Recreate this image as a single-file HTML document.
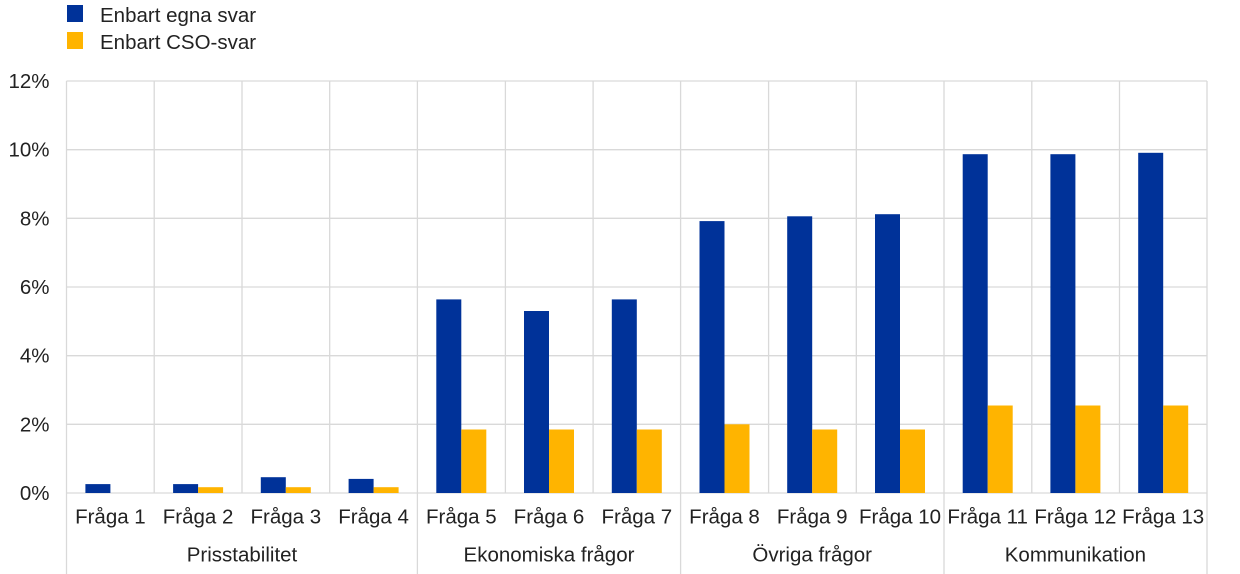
<!DOCTYPE html>
<html>
<head>
<meta charset="utf-8">
<style>
  html, body { margin: 0; padding: 0; background: #fff; }
  svg { display: block; }
  text { font-family: "Liberation Sans", Arial, sans-serif; fill: #222; }
</style>
</head>
<body>
<svg width="1240" height="574" viewBox="0 0 1240 574" xmlns="http://www.w3.org/2000/svg">
  <!-- Legend -->
  <rect x="67" y="5" width="16" height="17" fill="#003299"/>
  <text x="100" y="22" font-size="20.5">Enbart egna svar</text>
  <rect x="67" y="32" width="16" height="17" fill="#FFB400"/>
  <text x="100" y="49" font-size="20.5">Enbart CSO-svar</text>

  <!-- Horizontal gridlines -->
  <g stroke="#d9d9d9" stroke-width="1.3">
    <line x1="66.5" y1="81" x2="1207" y2="81"/>
    <line x1="66.5" y1="149.7" x2="1207" y2="149.7"/>
    <line x1="66.5" y1="218.3" x2="1207" y2="218.3"/>
    <line x1="66.5" y1="287" x2="1207" y2="287"/>
    <line x1="66.5" y1="355.7" x2="1207" y2="355.7"/>
    <line x1="66.5" y1="424.3" x2="1207" y2="424.3"/>
    <line x1="66.5" y1="493" x2="1207" y2="493"/>
  </g>
  <!-- Vertical gridlines (category) -->
  <g stroke="#d9d9d9" stroke-width="1.3">
    <line x1="154.2" y1="81" x2="154.2" y2="493"/>
    <line x1="242" y1="81" x2="242" y2="493"/>
    <line x1="329.7" y1="81" x2="329.7" y2="493"/>
    <line x1="505.4" y1="81" x2="505.4" y2="493"/>
    <line x1="593.1" y1="81" x2="593.1" y2="493"/>
    <line x1="768.6" y1="81" x2="768.6" y2="493"/>
    <line x1="856.3" y1="81" x2="856.3" y2="493"/>
    <line x1="1031.8" y1="81" x2="1031.8" y2="493"/>
    <line x1="1119.5" y1="81" x2="1119.5" y2="493"/>
    <!-- group separators extend to bottom -->
    <line x1="66.5" y1="81" x2="66.5" y2="574"/>
    <line x1="417.4" y1="81" x2="417.4" y2="574"/>
    <line x1="680.6" y1="81" x2="680.6" y2="574"/>
    <line x1="944" y1="81" x2="944" y2="574"/>
    <line x1="1207" y1="81" x2="1207" y2="574"/>
  </g>

  <!-- Y axis labels -->
  <g font-size="20.5" text-anchor="end">
    <text x="49.5" y="88">12%</text>
    <text x="49.5" y="156.7">10%</text>
    <text x="49.5" y="225.3">8%</text>
    <text x="49.5" y="294">6%</text>
    <text x="49.5" y="362.7">4%</text>
    <text x="49.5" y="431.3">2%</text>
    <text x="49.5" y="500">0%</text>
  </g>

  <!-- Bars: blue -->
  <g fill="#003299">
    <rect x="85.4" y="484.1" width="25" height="8.9"/>
    <rect x="173.1" y="484.1" width="25" height="8.9"/>
    <rect x="260.8" y="477.2" width="25" height="15.8"/>
    <rect x="348.6" y="478.9" width="25" height="14.1"/>
    <rect x="436.3" y="299.4" width="25" height="193.6"/>
    <rect x="524" y="311" width="25" height="182"/>
    <rect x="611.8" y="299.4" width="25" height="193.6"/>
    <rect x="699.5" y="221.1" width="25" height="271.9"/>
    <rect x="787.2" y="216.3" width="25" height="276.7"/>
    <rect x="875" y="214.2" width="25" height="278.8"/>
    <rect x="962.7" y="154.2" width="25" height="338.8"/>
    <rect x="1050.4" y="154.2" width="25" height="338.8"/>
    <rect x="1138.2" y="152.8" width="25" height="340.2"/>
  </g>
  <!-- Bars: yellow -->
  <g fill="#FFB400">
    <rect x="198.1" y="487.2" width="25" height="5.8"/>
    <rect x="285.8" y="487.2" width="25" height="5.8"/>
    <rect x="373.6" y="487.2" width="25" height="5.8"/>
    <rect x="461.3" y="429.5" width="25" height="63.5"/>
    <rect x="549" y="429.5" width="25" height="63.5"/>
    <rect x="636.8" y="429.5" width="25" height="63.5"/>
    <rect x="724.5" y="424.3" width="25" height="68.7"/>
    <rect x="812.2" y="429.5" width="25" height="63.5"/>
    <rect x="900" y="429.5" width="25" height="63.5"/>
    <rect x="987.7" y="405.5" width="25" height="87.5"/>
    <rect x="1075.4" y="405.5" width="25" height="87.5"/>
    <rect x="1163.2" y="405.5" width="25" height="87.5"/>
  </g>

  <!-- Category labels -->
  <g font-size="20.5" text-anchor="middle">
    <text x="110.4" y="523.5">Fråga 1</text>
    <text x="198.1" y="523.5">Fråga 2</text>
    <text x="285.8" y="523.5">Fråga 3</text>
    <text x="373.6" y="523.5">Fråga 4</text>
    <text x="461.3" y="523.5">Fråga 5</text>
    <text x="549" y="523.5">Fråga 6</text>
    <text x="636.8" y="523.5">Fråga 7</text>
    <text x="724.5" y="523.5">Fråga 8</text>
    <text x="812.2" y="523.5">Fråga 9</text>
    <text x="900" y="523.5">Fråga 10</text>
    <text x="987.7" y="523.5">Fråga 11</text>
    <text x="1075.4" y="523.5">Fråga 12</text>
    <text x="1163.2" y="523.5">Fråga 13</text>
  </g>
  <!-- Group labels -->
  <g font-size="20.5" text-anchor="middle">
    <text x="242" y="561.7">Prisstabilitet</text>
    <text x="549" y="561.7">Ekonomiska frågor</text>
    <text x="812.2" y="561.7">Övriga frågor</text>
    <text x="1075.4" y="561.7">Kommunikation</text>
  </g>
</svg>
</body>
</html>
